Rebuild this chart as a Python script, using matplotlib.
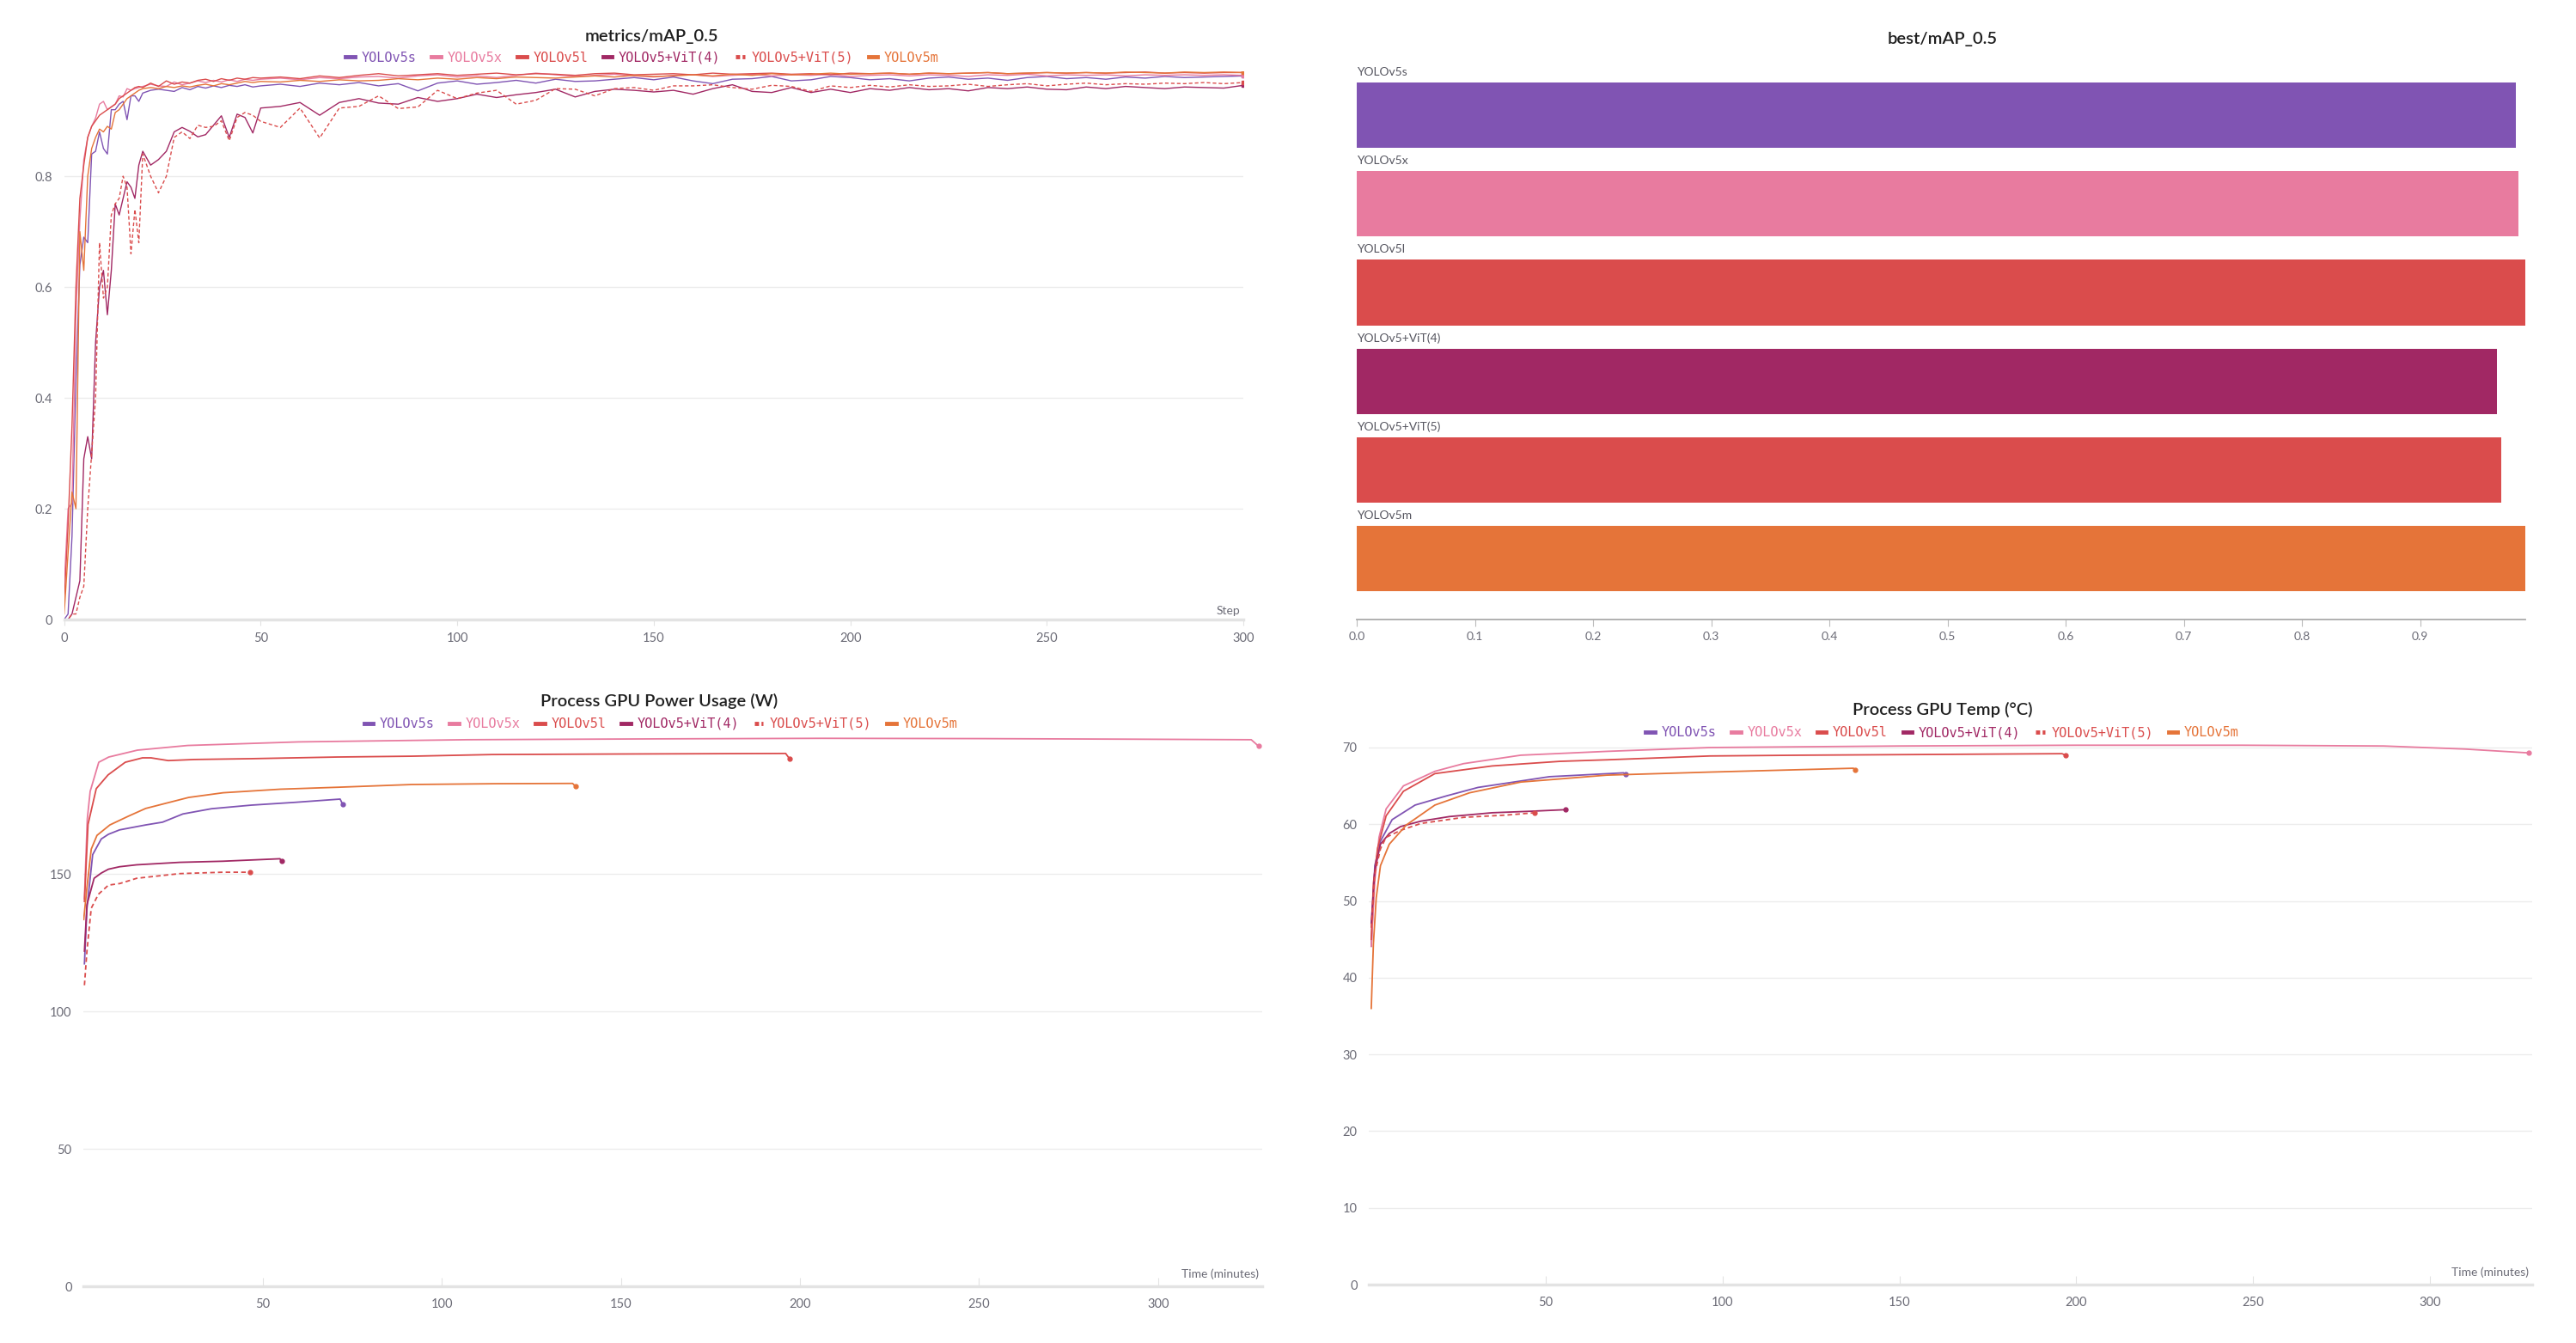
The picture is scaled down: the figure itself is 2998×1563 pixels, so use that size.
import matplotlib
matplotlib.use('Agg')
import matplotlib.pyplot as plt
from matplotlib.lines import Line2D

plt.rcParams['font.family'] = ['Lato', 'DejaVu Sans']

names = ['YOLOv5s', 'YOLOv5x', 'YOLOv5l', 'YOLOv5+ViT(4)', 'YOLOv5+ViT(5)', 'YOLOv5m']
colors = ['#8054b3', '#e87b9f', '#da4c4c', '#a12864', '#da4c4c', '#e57439']
styles = ['-', '-', '-', '-', (0, (3, 2)), '-']

# metrics/mAP_0.5
steps = [0, 1, 2, 3, 4, 5, 6, 7, 8, 9, 10, 11, 12, 13, 14, 15, 16, 17, 18, 19, 20,
         22, 24, 26, 28, 30, 32, 34, 36, 38, 40, 42, 44, 46, 48, 50,
         55, 60, 65, 70, 75, 80, 85, 90, 95, 100, 105, 110, 115, 120, 125, 130, 135, 140, 145, 150,
         155, 160, 165, 170, 175, 180, 185, 190, 195, 200, 205, 210, 215, 220, 225, 230, 235, 240, 245, 250,
         255, 260, 265, 270, 275, 280, 285, 290, 295, 300]

map_v5s = [0.00, 0.01, 0.15, 0.43, 0.64, 0.69, 0.68, 0.84, 0.845, 0.88, 0.85, 0.84, 0.92, 0.92, 0.93, 0.935, 0.902, 0.945, 0.945, 0.935, 0.950,
           0.955, 0.957, 0.955, 0.953, 0.960, 0.956, 0.962, 0.959, 0.963, 0.960, 0.964, 0.962, 0.965, 0.961, 0.963,
           0.966, 0.962, 0.968, 0.965, 0.969, 0.963, 0.967, 0.954, 0.968, 0.972, 0.966, 0.969, 0.973, 0.968, 0.975, 0.971, 0.972, 0.975, 0.978, 0.974,
           0.979, 0.972, 0.967, 0.975, 0.976, 0.980, 0.972, 0.974, 0.980, 0.978, 0.974, 0.976, 0.972, 0.977, 0.979, 0.975, 0.977, 0.973, 0.978, 0.980,
           0.976, 0.978, 0.975, 0.979, 0.977, 0.980, 0.978, 0.979, 0.980, 0.981]
map_v5x = [0.06, 0.20, 0.21, 0.55, 0.72, 0.83, 0.87, 0.89, 0.905, 0.93, 0.935, 0.92, 0.925, 0.93, 0.945, 0.943, 0.958, 0.955, 0.958, 0.96, 0.962,
           0.966, 0.963, 0.962, 0.970, 0.965, 0.968, 0.972, 0.969, 0.973, 0.970, 0.974, 0.971, 0.975, 0.973, 0.975,
           0.977, 0.974, 0.978, 0.976, 0.979, 0.980, 0.977, 0.981, 0.983, 0.979, 0.981, 0.978, 0.982, 0.986, 0.983, 0.980, 0.982, 0.984, 0.981, 0.979,
           0.982, 0.983, 0.980, 0.982, 0.984, 0.981, 0.983, 0.982, 0.984, 0.980, 0.982, 0.983, 0.981, 0.983, 0.982, 0.980, 0.983, 0.982, 0.984, 0.981,
           0.983, 0.982, 0.983, 0.981, 0.983, 0.982, 0.983, 0.982, 0.983, 0.982]
map_v5l = [0.03, 0.17, 0.35, 0.60, 0.76, 0.82, 0.87, 0.89, 0.90, 0.91, 0.915, 0.92, 0.925, 0.93, 0.94, 0.945, 0.95, 0.955, 0.96, 0.962, 0.960,
           0.968, 0.962, 0.972, 0.966, 0.970, 0.968, 0.973, 0.975, 0.971, 0.976, 0.973, 0.977, 0.975, 0.978, 0.977,
           0.979, 0.976, 0.981, 0.978, 0.982, 0.985, 0.981, 0.983, 0.985, 0.982, 0.984, 0.986, 0.983, 0.985, 0.984, 0.982, 0.985, 0.986, 0.983, 0.984,
           0.985, 0.983, 0.986, 0.984, 0.985, 0.986, 0.984, 0.985, 0.983, 0.986, 0.985, 0.986, 0.984, 0.986, 0.985, 0.986, 0.987, 0.985, 0.986, 0.987,
           0.986, 0.987, 0.986, 0.987, 0.988, 0.986, 0.987, 0.986, 0.987, 0.987]
map_vit4 = [0.00, 0.00, 0.01, 0.04, 0.07, 0.29, 0.33, 0.29, 0.50, 0.60, 0.63, 0.55, 0.63, 0.75, 0.73, 0.76, 0.79, 0.78, 0.76, 0.82, 0.845,
            0.820, 0.830, 0.845, 0.880, 0.888, 0.881, 0.871, 0.875, 0.892, 0.909, 0.870, 0.912, 0.906, 0.878, 0.923,
            0.926, 0.933, 0.910, 0.933, 0.940, 0.932, 0.930, 0.942, 0.935, 0.940, 0.948, 0.942, 0.947, 0.951, 0.957, 0.943, 0.953, 0.957, 0.955, 0.952,
            0.955, 0.948, 0.958, 0.965, 0.953, 0.951, 0.960, 0.951, 0.957, 0.951, 0.958, 0.955, 0.960, 0.956, 0.958, 0.954, 0.960, 0.958, 0.961, 0.957,
            0.956, 0.961, 0.958, 0.962, 0.960, 0.958, 0.961, 0.960, 0.959, 0.964]
map_vit5 = [0.00, 0.00, 0.01, 0.01, 0.04, 0.06, 0.20, 0.30, 0.40, 0.68, 0.58, 0.60, 0.73, 0.75, 0.76, 0.80, 0.78, 0.66, 0.74, 0.68, 0.84,
            0.800, 0.770, 0.800, 0.870, 0.880, 0.868, 0.892, 0.888, 0.890, 0.900, 0.864, 0.906, 0.915, 0.910, 0.899,
            0.888, 0.923, 0.869, 0.923, 0.926, 0.945, 0.922, 0.925, 0.955, 0.940, 0.950, 0.955, 0.930, 0.937, 0.958, 0.957, 0.945, 0.958, 0.960, 0.955,
            0.963, 0.963, 0.965, 0.960, 0.957, 0.964, 0.962, 0.953, 0.963, 0.960, 0.964, 0.961, 0.965, 0.962, 0.963, 0.966, 0.962, 0.965, 0.967, 0.963,
            0.966, 0.968, 0.965, 0.967, 0.966, 0.968, 0.967, 0.969, 0.967, 0.969]
map_v5m = [0.01, 0.12, 0.23, 0.20, 0.70, 0.63, 0.80, 0.85, 0.87, 0.885, 0.88, 0.89, 0.885, 0.915, 0.92, 0.93, 0.94, 0.945, 0.95, 0.955, 0.958,
           0.960, 0.958, 0.962, 0.960, 0.963, 0.961, 0.964, 0.966, 0.963, 0.967, 0.965, 0.968, 0.971, 0.969, 0.971,
           0.970, 0.973, 0.971, 0.974, 0.972, 0.973, 0.976, 0.974, 0.977, 0.975, 0.978, 0.976, 0.979, 0.978, 0.977, 0.979, 0.981, 0.979, 0.982, 0.980,
           0.981, 0.983, 0.981, 0.984, 0.982, 0.985, 0.983, 0.984, 0.986, 0.984, 0.985, 0.986, 0.984, 0.986, 0.985, 0.986, 0.987, 0.985, 0.986, 0.987,
           0.986, 0.987, 0.986, 0.988, 0.987, 0.986, 0.988, 0.987, 0.988, 0.987]

# best/mAP_0.5
best_map = [0.981, 0.983, 0.989, 0.965, 0.969, 0.989]

# Process GPU Power Usage (W)
pw_t_v5s = [0.2, 0.9, 2.5, 4.9, 6.9, 10, 17.3, 22, 27.7, 35.7, 46.8, 58.8, 71.6, 72.3]
pw_v5s = [117.3, 137.5, 157, 162.7, 164.4, 166, 167.8, 168.8, 171.8, 173.7, 175, 176, 177.2, 175.3]
pw_t_v5x = [0.2, 1.0, 1.8, 4.2, 7, 15, 29, 60, 107, 160, 206, 250, 290, 326, 328]
pw_v5x = [141, 170, 180, 190.6, 192.5, 195, 196.7, 198, 198.8, 199.1, 199.3, 199.2, 199.0, 198.8, 196.5]
pw_t_v5l = [0.2, 1.2, 3.5, 6.8, 11.6, 16.4, 18.8, 23.6, 30.8, 46.8, 70.8, 91.6, 114, 150, 196, 197]
pw_v5l = [140, 168, 181, 186, 190.6, 192.2, 192.2, 191.2, 191.6, 191.9, 192.5, 192.8, 193.4, 193.6, 193.8, 192.0]
pw_t_vit4 = [0.2, 0.9, 2.9, 4.9, 6.9, 10, 14.8, 26.8, 38.8, 54.8, 55.2]
pw_vit4 = [121.9, 138.8, 148.4, 150.3, 151.7, 152.6, 153.3, 154.2, 154.6, 155.5, 154.6]
pw_t_vit5 = [0.2, 0.9, 2.1, 4.1, 6.9, 10.1, 14.8, 26.8, 38.8, 46.4]
pw_vit5 = [109.5, 121.9, 137.5, 142.6, 145.9, 146.5, 148.4, 150.1, 150.6, 150.6]
pw_t_v5m = [0, 0.9, 2.1, 3.7, 7.3, 12.5, 17.3, 29.3, 38.9, 54.9, 70.8, 91.6, 115, 136.5, 137.3]
pw_v5m = [133.4, 145, 159, 164, 167.8, 171, 173.8, 177.8, 179.5, 180.8, 181.5, 182.5, 182.8, 182.9, 181.9]

# Process GPU Temp (C)
tp_t_v5s = [0.6, 1.6, 3.2, 6.5, 13, 21.9, 30.8, 51, 72, 72.5]
tp_v5s = [44.1, 54.6, 57.8, 60.6, 62.5, 63.7, 64.8, 66.2, 66.7, 66.5]
tp_t_v5x = [0.6, 1.6, 2.8, 4.8, 9.7, 18.6, 26.7, 42.9, 67.2, 96.4, 150, 200, 247, 287, 310, 328]
tp_v5x = [44.1, 52.7, 58.3, 62.0, 65.0, 66.9, 67.9, 69.0, 69.5, 70.0, 70.2, 70.3, 70.3, 70.2, 69.8, 69.3]
tp_t_v5l = [0.6, 1.2, 2.4, 4.8, 9.7, 18.6, 34.8, 54, 67.2, 96.4, 122, 160, 196, 197]
tp_v5l = [45, 52.3, 56.9, 61.1, 64.3, 66.6, 67.6, 68.2, 68.4, 68.9, 69.0, 69.1, 69.2, 69.0]
tp_t_vit4 = [0.6, 1.6, 3.2, 5.7, 8.9, 14.6, 22.7, 34.8, 46, 55.5]
tp_vit4 = [47.1, 54, 57.4, 58.8, 59.7, 60.4, 61.0, 61.5, 61.7, 61.9]
tp_t_vit5 = [0.6, 1.6, 3.2, 4.8, 8.9, 14.6, 26.7, 38.9, 46.8]
tp_vit5 = [46.5, 53.5, 56.8, 58.3, 59.2, 60.1, 60.9, 61.2, 61.5]
tp_t_v5m = [0.6, 1.2, 2.0, 3.2, 5.7, 10.5, 18.6, 28.4, 42.9, 67.2, 96.4, 137, 137.4]
tp_v5m = [36.0, 44.4, 50.4, 54.6, 57.4, 59.9, 62.5, 64.1, 65.5, 66.4, 66.8, 67.3, 67.1]

TICK_COLOR = '#6b6b76'
GRID_COLOR = '#ececec'
TITLE_COLOR = '#1f1f1f'


def base_style(ax):
    for s in ['top', 'right', 'left']:
        ax.spines[s].set_visible(False)
    ax.spines['bottom'].set_color('#e3e3e3')
    ax.spines['bottom'].set_linewidth(2.5)
    ax.grid(axis='y', color=GRID_COLOR, linewidth=1)
    ax.set_axisbelow(True)
    ax.tick_params(axis='y', length=0, labelsize=10.5, labelcolor=TICK_COLOR, pad=10)
    ax.tick_params(axis='x', labelsize=10.5, labelcolor=TICK_COLOR, color='#e3e3e3')


def add_legend(fig, cx, cy):
    handles = [Line2D([], [], color=c, lw=3.5, linestyle=('-' if i != 4 else (0, (1, 0.6))))
               for i, c in enumerate(colors)]
    leg = fig.legend(handles, names, loc='center', bbox_to_anchor=(cx, cy), ncol=6,
                     frameon=False, prop={'family': 'DejaVu Sans Mono', 'size': 11},
                     handlelength=0.7, handletextpad=0.5, columnspacing=1.15)
    for txt, c in zip(leg.get_texts(), colors):
        txt.set_color(c)


fig = plt.figure(figsize=(29.98, 15.63), dpi=100)

# ---- metrics/mAP_0.5
ax1 = fig.add_axes([0.0249, 0.5387, 0.4578, 0.4085])
map_series = [map_v5s, map_v5x, map_v5l, map_vit4, map_vit5, map_v5m]
for vals, c, ls in zip(map_series, colors, styles):
    ax1.plot(steps, vals, color=c, linestyle=ls, lw=1.0)
    ax1.plot(steps[-1], vals[-1], marker='s', ms=3, color=c)
ax1.set_xlim(0, 300)
ax1.set_ylim(0, 0.99)
ax1.set_yticks([0, 0.2, 0.4, 0.6, 0.8])
ax1.set_yticklabels(['0', '0.2', '0.4', '0.6', '0.8'])
ax1.set_xticks([0, 50, 100, 150, 200, 250, 300])
base_style(ax1)
ax1.tick_params(axis='x', direction='out', length=5, pad=6)
ax1.text(0.997, 0.006, 'Step', transform=ax1.transAxes, ha='right', va='bottom',
         fontsize=10, color=TICK_COLOR)
fig.text(0.253, 0.973, 'metrics/mAP_0.5', ha='center', va='center', fontsize=14.5,
         fontweight='semibold', color=TITLE_COLOR)
add_legend(fig, 0.2494, 0.957)

# ---- best/mAP_0.5
ax2 = fig.add_axes([0.5267, 0.5387, 0.4536, 0.4123])
pos = list(range(len(names)))
ax2.barh(pos, best_map, height=0.74, color=colors)
for p, n in zip(pos, names):
    ax2.text(0, p - 0.485, n, ha='left', va='center', fontsize=10, color='#55555f')
ax2.set_ylim(5.685, -0.556)
ax2.set_xlim(0, max(best_map))
ax2.set_xticks([0, 0.1, 0.2, 0.3, 0.4, 0.5, 0.6, 0.7, 0.8, 0.9])
ax2.set_xticklabels(['0.0', '0.1', '0.2', '0.3', '0.4', '0.5', '0.6', '0.7', '0.8', '0.9'])
ax2.set_yticks([])
for s in ['top', 'right', 'left']:
    ax2.spines[s].set_visible(False)
ax2.spines['bottom'].set_color('#aaaaaa')
ax2.spines['bottom'].set_linewidth(1.3)
ax2.tick_params(axis='x', direction='out', length=6, color='#bbbbbb', labelsize=10,
                labelcolor=TICK_COLOR, pad=4)
fig.text(0.754, 0.971, 'best/mAP_0.5', ha='center', va='center', fontsize=14.5,
         fontweight='semibold', color=TITLE_COLOR)

# ---- Process GPU Power Usage (W)
ax3 = fig.add_axes([0.0325, 0.0422, 0.4574, 0.4105])
pw_times = [pw_t_v5s, pw_t_v5x, pw_t_v5l, pw_t_vit4, pw_t_vit5, pw_t_v5m]
pw_vals = [pw_v5s, pw_v5x, pw_v5l, pw_vit4, pw_vit5, pw_v5m]
for t, v, c, ls in zip(pw_times, pw_vals, colors, styles):
    ax3.plot(t, v, color=c, linestyle=ls, lw=1.3)
    ax3.plot(t[-1], v[-1], marker='o', ms=3.5, color=c)
ax3.set_xlim(0, 329)
ax3.set_ylim(0, 200.5)
ax3.set_yticks([0, 50, 100, 150])
ax3.set_xticks([50, 100, 150, 200, 250, 300])
base_style(ax3)
ax3.tick_params(axis='x', direction='in', length=7, pad=10)
ax3.text(0.997, 0.012, 'Time (minutes)', transform=ax3.transAxes, ha='right', va='bottom',
         fontsize=10, color=TICK_COLOR)
fig.text(0.256, 0.478, 'Process GPU Power Usage (W)', ha='center', va='center', fontsize=14.5,
         fontweight='semibold', color=TITLE_COLOR)
add_legend(fig, 0.2565, 0.461)

# ---- Process GPU Temp (C)
ax4 = fig.add_axes([0.5315, 0.0435, 0.4515, 0.4056])
tp_times = [tp_t_v5s, tp_t_v5x, tp_t_v5l, tp_t_vit4, tp_t_vit5, tp_t_v5m]
tp_vals = [tp_v5s, tp_v5x, tp_v5l, tp_vit4, tp_vit5, tp_v5m]
for t, v, c, ls in zip(tp_times, tp_vals, colors, styles):
    ax4.plot(t, v, color=c, linestyle=ls, lw=1.3)
    ax4.plot(t[-1], v[-1], marker='o', ms=3.5, color=c)
ax4.set_xlim(0, 329)
ax4.set_ylim(0, 71)
ax4.set_yticks([0, 10, 20, 30, 40, 50, 60, 70])
ax4.set_xticks([50, 100, 150, 200, 250, 300])
base_style(ax4)
ax4.tick_params(axis='x', direction='in', length=7, pad=10)
ax4.text(0.997, 0.012, 'Time (minutes)', transform=ax4.transAxes, ha='right', va='bottom',
         fontsize=10, color=TICK_COLOR)
fig.text(0.754, 0.4716, 'Process GPU Temp (°C)', ha='center', va='center', fontsize=14.5,
         fontweight='semibold', color=TITLE_COLOR)
add_legend(fig, 0.754, 0.4545)

fig.savefig('out.png', dpi=100, facecolor='white')
